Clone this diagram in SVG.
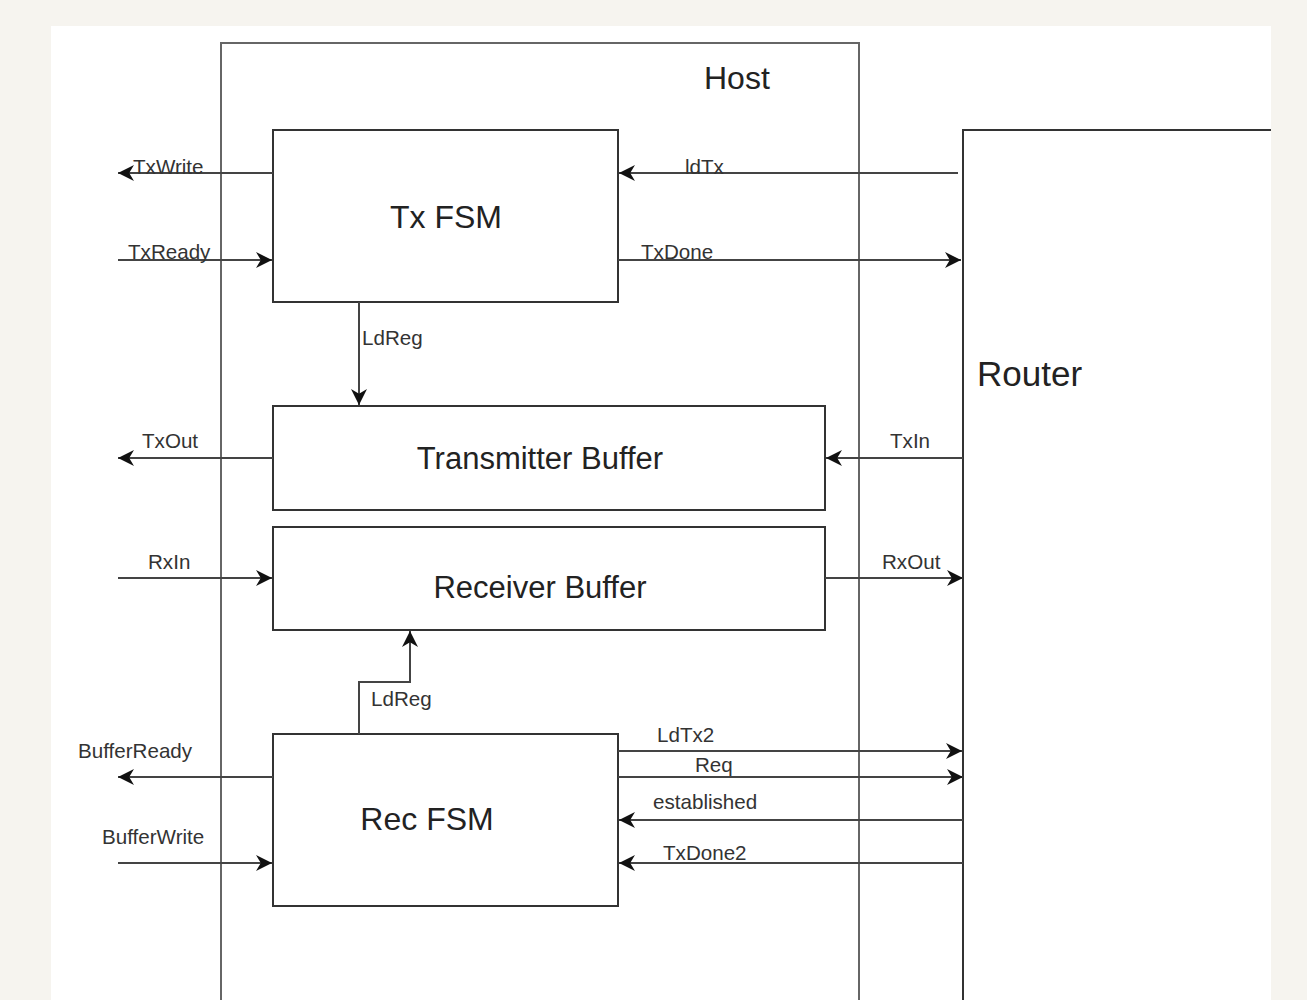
<svg xmlns="http://www.w3.org/2000/svg" width="1307" height="1000" viewBox="0 0 1307 1000">
<defs>
<marker id="ah" viewBox="0 0 10 10" refX="10" refY="5" markerWidth="16" markerHeight="16" markerUnits="userSpaceOnUse" orient="auto">
<path d="M0,0 L10,5 L0,10 L3,5 Z" fill="#111"/>
</marker>
<style>
.box{fill:#fff;stroke:#333;stroke-width:2}
.frame{fill:none;stroke:#666;stroke-width:2}
.ln{fill:none;stroke:#444;stroke-width:2;marker-end:url(#ah)}
.big{font-family:"Liberation Sans",Arial,sans-serif;font-size:31px;fill:#222}
.lbl{font-family:"Liberation Sans",Arial,sans-serif;font-size:20.6px;fill:#333}
</style>
</defs>
<rect x="0" y="0" width="1307" height="1000" fill="#f6f4ef"/>
<rect x="51" y="26" width="1220" height="974" fill="#fff"/>
<g id="host">
<path class="frame" d="M221,1000 V43 H859 V1000"/>
<text class="big" x="704" y="89" style="font-size:32px">Host</text>
</g>
<g id="router">
<path class="frame" d="M963,1000 V130 H1271" style="stroke:#333"/>
<text class="big" x="977" y="386" style="font-size:35px">Router</text>
</g>
<g id="txfsm">
<rect class="box" x="273" y="130" width="345" height="172"/>
<text class="big" x="446" y="228" text-anchor="middle" style="font-size:32px">Tx FSM</text>
</g>
<g id="txbuf">
<rect class="box" x="273" y="406" width="552" height="104"/>
<text class="big" x="540" y="469" text-anchor="middle">Transmitter Buffer</text>
</g>
<g id="rxbuf">
<rect class="box" x="273" y="527" width="552" height="103"/>
<text class="big" x="540" y="598" text-anchor="middle">Receiver Buffer</text>
</g>
<g id="recfsm">
<rect class="box" x="273" y="734" width="345" height="172"/>
<text class="big" x="427" y="830" text-anchor="middle" style="font-size:32px">Rec FSM</text>
</g>
<g id="connectors">
<path class="ln" d="M273,173 H118"/>
<text class="lbl" x="133" y="174">TxWrite</text>
<path class="ln" d="M118,260 H272"/>
<text class="lbl" x="128" y="259">TxReady</text>
<path class="ln" d="M958,173 H619"/>
<text class="lbl" x="685" y="174">ldTx</text>
<path class="ln" d="M618,260 H961"/>
<text class="lbl" x="641" y="259">TxDone</text>
<path class="ln" d="M359,302 V405"/>
<text class="lbl" x="362" y="345">LdReg</text>
<path class="ln" d="M273,458 H118"/>
<text class="lbl" x="142" y="448">TxOut</text>
<path class="ln" d="M963,458 H826"/>
<text class="lbl" x="890" y="448">TxIn</text>
<path class="ln" d="M118,578 H272"/>
<text class="lbl" x="148" y="569">RxIn</text>
<path class="ln" d="M825,578 H963"/>
<text class="lbl" x="882" y="569">RxOut</text>
<path class="ln" d="M359,734 V682 H410 V631"/>
<text class="lbl" x="371" y="706">LdReg</text>
<path class="ln" d="M273,777 H118"/>
<text class="lbl" x="78" y="758">BufferReady</text>
<path class="ln" d="M118,863 H272"/>
<text class="lbl" x="102" y="844">BufferWrite</text>
<path class="ln" d="M618,751 H962"/>
<text class="lbl" x="657" y="742">LdTx2</text>
<path class="ln" d="M618,777 H963"/>
<text class="lbl" x="695" y="772">Req</text>
<path class="ln" d="M963,820 H619"/>
<text class="lbl" x="653" y="809">established</text>
<path class="ln" d="M963,863 H619"/>
<text class="lbl" x="663" y="860">TxDone2</text>
</g>
</svg>
